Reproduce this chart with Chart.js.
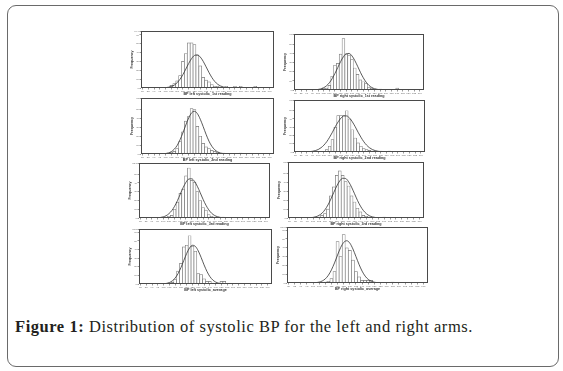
<!DOCTYPE html>
<html><head><meta charset="utf-8">
<script src="https://cdn.jsdelivr.net/npm/chart.js@4.4.1/dist/chart.umd.min.js"></script>
<style>
html,body{margin:0;padding:0;background:#fff;}
#wrap{position:relative;width:563px;height:371px;overflow:hidden;background:#fff;}
#frame{position:absolute;left:7px;top:5px;width:552px;height:362px;border:1.5px solid #6a6a6a;border-radius:9px;box-sizing:border-box;}
canvas{position:absolute;}
#cap{position:absolute;left:15px;top:319px;font-family:"Liberation Serif","Times New Roman",serif;font-size:16.5px;line-height:16px;letter-spacing:0.55px;color:#231f20;white-space:nowrap;}
#cap b{font-weight:bold;}
</style></head><body>
<div id="wrap"><div id="frame"></div>
<canvas id="c0"></canvas><canvas id="c1"></canvas><canvas id="c2"></canvas><canvas id="c3"></canvas>
<canvas id="c4"></canvas><canvas id="c5"></canvas><canvas id="c6"></canvas><canvas id="c7"></canvas>
<div id="cap"><b>Figure 1:</b> Distribution of systolic BP for the left and right arms.</div>
</div>
<script>
// bin starts (mmHg), tick labels every 5
const bins = [80,82.5,85,87.5,90,92.5,95,97.5,100,102.5,105,107.5,110,112.5,115,117.5,120,122.5,125,127.5,130,132.5,135,137.5,140,142.5,145,147.5,150,152.5,155,157.5,160,162.5,165,167.5,170,172.5,175,177.5,180,182.5,185,187.5,190,192.5];
const xTitles = ["BP left systolic_1st reading","BP right systolic_1st reading","BP left systolic_2nd reading","BP right systolic_2nd reading","BP left systolic_3rd reading","BP right systolic_3rd reading","BP left systolic_average","BP right systolic_average"];
const yTitle = "Frequency";
const yMax = [64.4, 61, 63, 63, 62.7, 63, 63.8, 63.6];

const countsLeft1 = [0,0,0,0,0,0,0,0,0,1, 3,5,8,14,30,39,51,51,49,37, 25,12,9,7,4,2,2,1,0,2, 0,0,2,0,2,0,0,0,0,2, 0,0,0,0,0,0];
const curveLeft1  = [0,0,0,0,0,0,0,0.1,0.4,0.8, 1.7,3.3,6.0,9.9,15.2,21.4,27.8,33.3,36.8,37.4, 35.0,30.2,24.0,17.6,11.9,7.4,4.3,2.3,1.1,0.5, 0.2,0.1,0,0,0,0,0,0,0,0, 0,0,0,0,0,0];

const countsRight1 = [0,0,0,0,0,0,0,0,0,0, 2,2,5,15,27,29,39,56,39,38, 33,24,17,11,9,7,3,2,1,0, 1,0,0,0,0,0,2,0,0,0, 0,0,0,0,0,0];
const curveRight1  = [0,0,0,0,0,0,0.1,0.2,0.6,1.2, 2.5,4.6,7.8,12.4,18.1,24.5,31.0,36.3,39.5,39.8, 37.2,32.2,25.9,19.3,13.4,8.6,5.1,2.8,1.4,0.7, 0.3,0.1,0,0,0,0,0,0,0,0, 0,0,0,0,0,0];

const countsLeft2 = [0,0,0,0,0,0,0,0,0,1, 2,3,6,14,25,37,42,51,50,31, 20,12,8,6,4,3,2,0,1,0, 0,0,0,0,1,0,0,0,0,0, 0,0,0,0,0,0];
const curveLeft2  = [0,0,0,0,0,0,0.1,0.2,0.5,1.2, 2.7,5.4,9.6,16.0,23.9,32.6,40.6,46.3,48.0,45.4, 39.1,30.9,22.2,14.5,8.7,4.8,2.4,1.1,0.4,0.2, 0.1,0,0,0,0,0,0,0,0,0, 0,0,0,0,0,0];

const countsRight2 = [0,0,0,0,0,0,0,0,0,0, 0,3,7,15,30,44,44,44,50,40, 27,17,11,7,4,3,2,1,0,0, 1,0,0,1,0,0,0,0,0,0, 0,0,0,0,0,0];
const curveRight2  = [0,0,0,0,0.2,0.4,0.9,1.7,3.0,5.2, 8.3,12.5,17.9,24.0,30.6,36.5,41.1,43.7,43.7,41.1, 36.5,30.6,24.0,17.9,12.5,8.3,5.2,3.0,1.7,0.9, 0.4,0.2,0,0,0,0,0,0,0,0, 0,0,0,0,0,0];

const countsLeft3 = [0,0,0,0,0,0,0,0,0,1, 2,3,10,18,28,33,48,57,43,41, 30,20,12,9,4,2,1,1,0,1, 0,0,0,0,0,0,0,0,0,0, 0,0,0,0,0,0];
const curveLeft3  = [0,0,0,0,0,0.1,0.3,0.6,1.3,2.6, 4.9,8.4,13.4,19.8,27.3,34.7,40.8,44.4,44.7,41.7, 36.0,28.8,21.3,14.6,9.3,5.4,3.0,1.5,0.7,0.3, 0.1,0,0,0,0,0,0,0,0,0, 0,0,0,0,0,0];

const countsRight3 = [0,0,0,0,0,0,0,0,0,0, 1,3,5,10,25,35,48,53,48,41, 36,25,18,11,7,3,2,1,0,0, 0,0,1,0,0,0,0,0,0,0, 0,0,0,0,0,0];
const curveRight3  = [0,0,0,0,0,0,0.1,0.3,0.7,1.5, 3.0,5.4,9.3,14.6,21.3,28.8,36.0,41.7,44.7,44.4, 40.8,34.7,27.3,19.8,13.4,8.4,4.9,2.6,1.3,0.6, 0.3,0.1,0,0,0,0,0,0,0,0, 0,0,0,0,0,0];

const countsLeftAvg = [0,0,0,0,0,0,0,0,0,0, 1,2,5,15,24,43,45,56,44,38, 12,11,6,3,3,1,0,0,3,3, 0,0,0,0,0,0,0,0,0,0, 0,0,0,0,0,0];
const curveLeftAvg  = [0,0,0,0,0,0,0,0.1,0.3,0.7, 1.7,3.6,6.9,12.0,19.0,27.3,35.5,41.9,44.9,43.6, 38.4,30.7,22.2,14.6,8.7,4.7,2.3,1.0,0.4,0.2, 0,0,0,0,0,0,0,0,0,0, 0,0,0,0,0,0];

const countsRightAvg = [0,0,0,0,0,0,0,0,0,0, 0,0,1,2,5,13,47,30,55,40, 37,26,13,7,3,3,3,3,0,0, 0,0,0,0,1,0,0,0,0,0, 0,0,0,0,0,0];
const curveRightAvg  = [0,0,0,0,0,0,0,0.1,0.2,0.4, 1.0,2.3,4.7,8.8,14.9,22.8,31.8,40.3,46.1,48.0, 45.3,38.7,30.0,21.1,13.5,7.8,4.1,2.0,0.9,0.3, 0.1,0,0,0,0,0,0,0,0,0, 0,0,0,0,0,0];

// layout: plot-area rectangles [left, top, right, bottom] in page pixels
const rects = [[141,31,274,88],[294,34,424,90],[141,98,274,154],[294,100,425,152],[139,163,270,218],[288,162,424,218],[139,229,272,284],[287,227,428,283]];
const seriesCounts = [countsLeft1,countsRight1,countsLeft2,countsRight2,countsLeft3,countsRight3,countsLeftAvg,countsRightAvg];
const seriesCurves = [curveLeft1,curveRight1,curveLeft2,curveRight2,curveLeft3,curveRight3,curveLeftAvg,curveRightAvg];

const framePlugin = {id:'frameBox', afterDraw(chart){
  const a = chart.chartArea, ctx = chart.ctx;
  ctx.save(); ctx.strokeStyle = '#4a4a4a'; ctx.lineWidth = 1;
  ctx.strokeRect(Math.round(a.left)+0.5, Math.round(a.top)+0.5, Math.round(a.right-a.left)-1, Math.round(a.bottom-a.top)-1);
  ctx.restore();
}};

for (let i = 0; i < 8; i++) {
  const [L,T,R,B] = rects[i];
  const W = R-L, H = B-T;
  const cv = document.getElementById('c'+i);
  cv.width = W + 11 + 3; cv.height = H + 2 + 8;
  cv.style.left = (L-11)+'px'; cv.style.top = (T-2)+'px';
  new Chart(cv, {
    data: {labels: bins, datasets: [
      {type:'line', data: seriesCurves[i], borderColor:'#303030', borderWidth:0.8, pointRadius:0, cubicInterpolationMode:'monotone', fill:false, order:0},
      {type:'bar', data: seriesCounts[i], backgroundColor:'#ffffff', borderColor:'#777777', borderWidth:0.7, barPercentage:1, categoryPercentage:1, order:1}
    ]},
    options: {
      responsive:false, animation:false, devicePixelRatio:1,
      layout:{padding:{top:2,right:3,left:0,bottom:0}},
      plugins:{legend:{display:false}, tooltip:{enabled:false}},
      scales:{
        x:{type:'category', offset:true,
          grid:{display:true, drawOnChartArea:false, drawTicks:true, tickLength:1.5, offset:false, lineWidth:0.6,
                color:(c)=> (c.index%2===0 ? '#555' : 'rgba(0,0,0,0)')},
          border:{display:false},
          ticks:{autoSkip:false, maxRotation:0, minRotation:0, padding:0.5, font:{size:2.5, family:'Arial'}, color:'#666',
                 callback:(v,idx)=> (idx%2===0 ? String(bins[idx]) : '')},
          title:{display:true, text:xTitles[i], font:{size:3.7, weight:'bold', family:'Arial'}, color:'#333', padding:0},
          afterFit:(s)=>{ s.height = 8; s.paddingLeft = 0; s.paddingRight = 0; }
        },
        y:{min:0, max:yMax[i],
          grid:{display:true, drawOnChartArea:false, drawTicks:true, tickLength:1.5, lineWidth:0.6, color:'#555'},
          border:{display:false},
          ticks:{stepSize:10, padding:0.5, font:{size:2.5, family:'Arial'}, color:'#666'},
          title:{display:true, text:yTitle, font:{size:3.6, weight:'bold', family:'Arial'}, color:'#333', padding:0},
          afterFit:(s)=>{ s.width = 11; s.paddingTop = 0; s.paddingBottom = 0; }
        }
      }
    },
    plugins:[framePlugin]
  });
}
</script>
</body></html>
